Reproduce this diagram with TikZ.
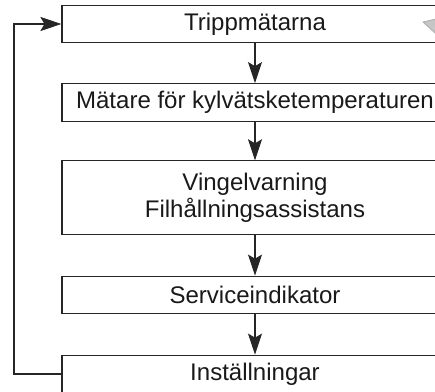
\documentclass[tikz,border=0pt]{standalone}
\usepackage{fontspec}
\setmainfont{Liberation Sans}
\usetikzlibrary{arrows.meta}

\tikzset{
  box/.style={draw=black!85,line width=0.9pt,minimum width=11.58cm,
    minimum height=1.13cm,inner sep=0pt,align=center,text=black!90,
    font=\fontsize{20.5}{23}\selectfont},
  flow/.style={draw=black!85,line width=0.9pt,
    -{Stealth[length=18pt,width=12pt,inset=3.5pt]}}
}

\begin{document}
\begin{tikzpicture}[x=0.03cm,y=-0.03cm]
  \clip (0,0) rectangle (435,392);

  \node[box] (trip) at (255,24) {Trippmätarna};
  \node[box] (kyl) at (255,102.5) {Mätare för kylvätsketemperaturen};
  \node[box,minimum height=2.2cm] (vingel) at (255,197.5) {Vingelvarning\\Filhållningsassistans};
  \node[box] (service) at (255,295) {Serviceindikator};
  \node[box] (install) at (255,374) {Inställningar};

  \draw[flow] (trip) -- (kyl);
  \draw[flow] (kyl) -- (vingel);
  \draw[flow] (vingel) -- (service);
  \draw[flow] (service) -- (install);

  % return path
  \coordinate (ret) at (14,374);
  \draw[flow] (install.west) -- (ret) |- (trip.west);

  % grey mark, top right
  \filldraw[draw=gray!70,fill=gray!45,line width=0.6pt]
    (423,22) -- (436,19) -- (436,34) -- cycle;
\end{tikzpicture}
\end{document}
